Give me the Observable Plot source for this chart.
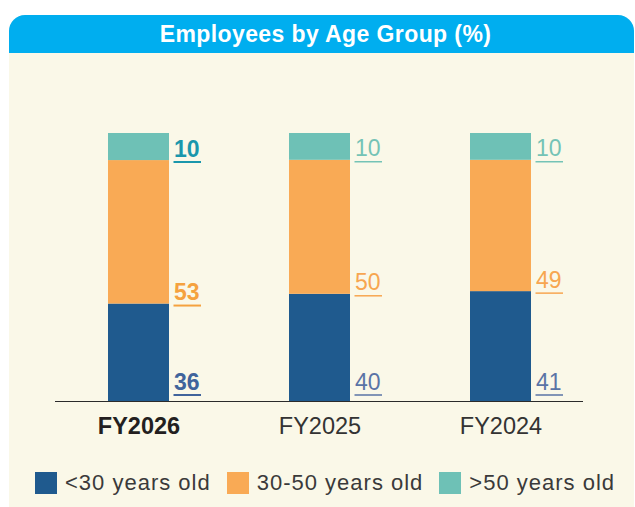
<!DOCTYPE html>
<html><head><meta charset="utf-8">
<script src="https://cdn.jsdelivr.net/npm/d3@7"></script>
<script src="https://cdn.jsdelivr.net/npm/@observablehq/plot@0.6"></script>
<style>
body{margin:0;background:#fff;font-family:"Liberation Sans",Arial,Helvetica,sans-serif;}
#panel{position:absolute;left:9px;top:15px;width:625px;height:492px;background:#FAF8E8;border-radius:16px 16px 0 0;overflow:hidden;}
#title{height:38px;line-height:38px;background:#00AEEF;color:#fff;font-weight:bold;font-size:23px;letter-spacing:0.4px;text-align:center;padding-left:8px;}
#chart svg{display:block;}
#legend{display:flex;align-items:center;padding-left:26px;margin-top:15px;font-size:22px;color:#3a3a3a;letter-spacing:1px;}
.item{display:flex;align-items:center;margin-right:16px;white-space:nowrap;}
.sw{width:22px;height:22px;margin-right:8px;flex:none;}
</style></head><body>
<div id="panel"><div id="title">Employees by Age Group (%)</div><div id="chart"></div><div id="legend"></div></div>
<script>
const years = ["FY2026", "FY2025", "FY2024"];
const groups = ["<30 years old", "30-50 years old", ">50 years old"];
const under30 = [36, 40, 41];
const from30to50 = [53, 50, 49];
const over50 = [10, 10, 10];
const highlightYear = "FY2026";
const barColors = ["#1F5A8E", "#F9AA55", "#6EC1B6"];
const labelColorsBold = ["#40649C", "#F5A23F", "#1A97AC"];
const labelColorsRegular = ["#5A74A6", "#F7A650", "#74C3B6"];

const series = [under30, from30to50, over50];
const rows = [];
years.forEach((y, j) => groups.forEach((g, i) => rows.push({year: y, group: g, value: series[i][j]})));

const base = {x: "year", y: "value", z: "group", order: groups, offset: "normalize"};
const labelMarks = [];
groups.forEach((g, i) => {
  [true, false].forEach(bold => {
    const pred = d => d.group === g && ((d.year === highlightYear) === bold);
    const col = bold ? labelColorsBold[i] : labelColorsRegular[i];
    labelMarks.push(Plot.tickY(rows, Plot.filter(pred, Plot.stackY1({
      ...base, stroke: col, strokeWidth: bold ? 2 : 1.5,
      dx: 65.5, insetRight: 33.5, dy: i === 0 ? -6.5 : 1.5
    }))));
    labelMarks.push(Plot.text(rows, Plot.filter(pred, Plot.stackY1({
      ...base, text: "value", fill: col, fontWeight: bold ? "bold" : "normal",
      fontSize: 23, textAnchor: "start", lineAnchor: "bottom",
      dx: 35, dy: i === 0 ? -11.5 : -4
    }))));
  });
});

const chart = Plot.plot({
  width: 625,
  height: 402,
  marginLeft: 46,
  marginRight: 51,
  marginTop: 80,
  marginBottom: 54,
  style: {background: "transparent", fontFamily: "Liberation Sans, Arial, Helvetica, sans-serif", color: "#333"},
  x: {domain: years, paddingInner: 0.663, paddingOuter: 0.29, axis: null},
  y: {domain: [0, 1], axis: null},
  color: {domain: groups, range: barColors},
  marks: [
    Plot.barY(rows, {...base, fill: "group"}),
    Plot.ruleY([0], {stroke: "#2b2b2b", strokeWidth: 1.2}),
    Plot.axisX([highlightYear], {tickSize: 0, tickPadding: 16, fontSize: 23.5, fontWeight: "bold", fill: "#231F20", label: null}),
    Plot.axisX(years.filter(y => y !== highlightYear), {tickSize: 0, tickPadding: 16, fontSize: 23.5, fill: "#333", label: null}),
    ...labelMarks
  ]
});
document.getElementById("chart").appendChild(chart);

const legend = document.getElementById("legend");
groups.forEach((g, i) => {
  const it = document.createElement("div");
  it.className = "item";
  const sw = document.createElement("span");
  sw.className = "sw";
  sw.style.background = barColors[i];
  const t = document.createElement("span");
  t.textContent = g;
  it.appendChild(sw); it.appendChild(t);
  legend.appendChild(it);
});
</script>
</body></html>
